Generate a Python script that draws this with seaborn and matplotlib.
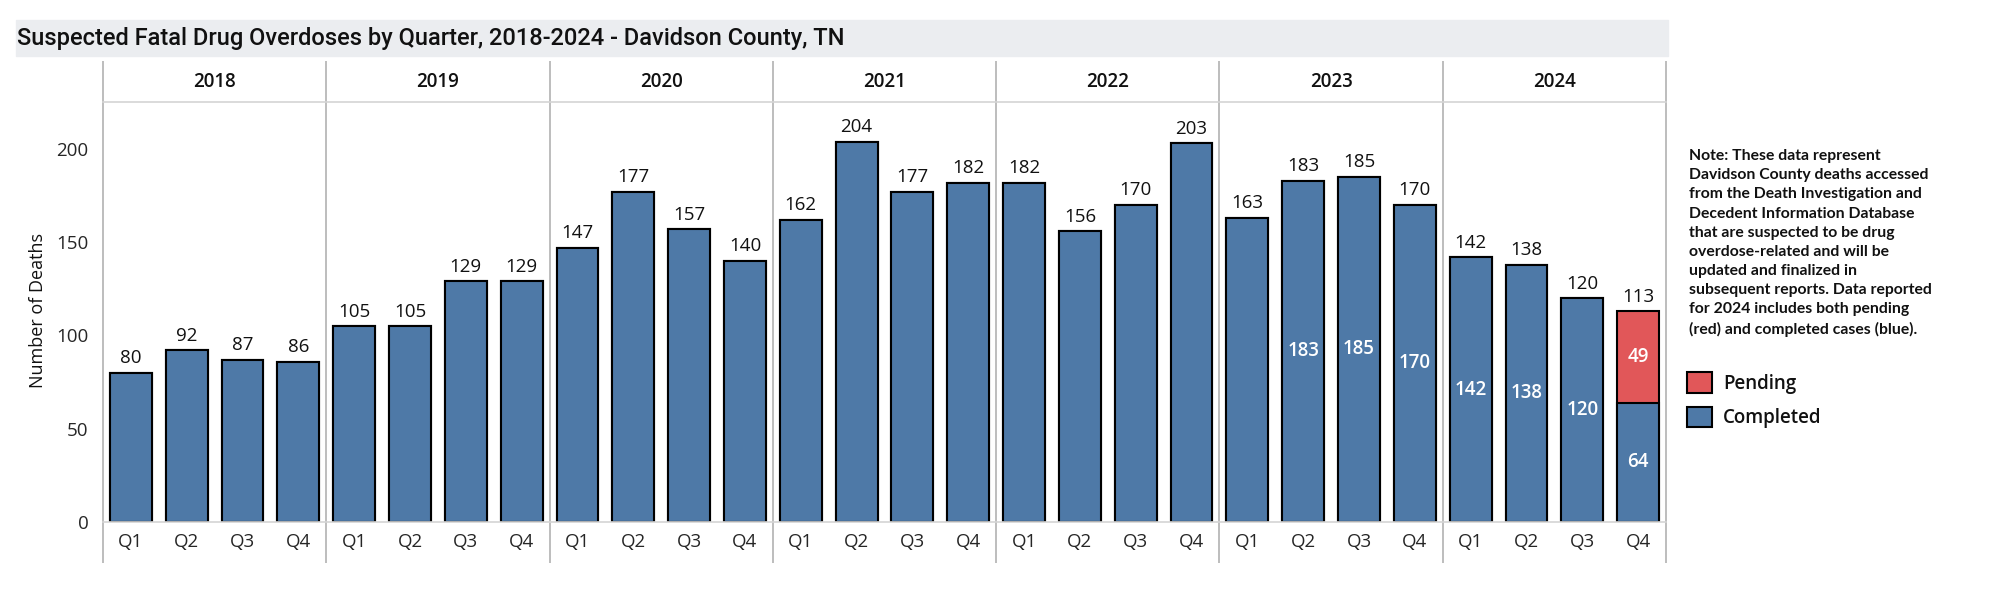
import matplotlib
matplotlib.use('Agg')
import matplotlib.pyplot as plt
from matplotlib.patches import Patch, Rectangle
import pandas as pd
import seaborn as sns

years = ['2018', '2019', '2020', '2021', '2022', '2023', '2024']
quarters = ['Q1', 'Q2', 'Q3', 'Q4']
completed = [80, 92, 87, 86,
             105, 105, 129, 129,
             147, 177, 157, 140,
             162, 204, 177, 182,
             182, 156, 170, 203,
             163, 183, 185, 170,
             142, 138, 120, 64]
pending = [0] * 27 + [49]
# bars that also show the completed count inside the bar
inner_shown = [False] * 21 + [True] * 7

BLUE = '#4e79a7'
RED = '#e15759'
LINE = '#c8c8c8'

sns.set_theme(style='white')
plt.rcParams['font.family'] = ['Open Sans', 'DejaVu Sans']
plt.rcParams['text.color'] = '#111111'

df = pd.DataFrame({
    'year': [y for y in years for _ in quarters],
    'quarter': quarters * len(years),
    'completed': completed,
    'pending': pending,
})
df['slot'] = df['year'] + ' ' + df['quarter']
df['total'] = df['completed'] + df['pending']

W, H = 2000, 589
fig = plt.figure(figsize=(W / 100, H / 100), dpi=100)
ax = fig.add_axes([103 / W, 1 - 522 / H, (1666 - 103) / W, 420 / H])

# title band
fig.patches.append(Rectangle((16 / W, 1 - 56 / H), (1668 - 16) / W, 36 / H,
                             transform=fig.transFigure, color='#ebedf0', zorder=0))
fig.text(17 / W, 1 - 38 / H,
         'Suspected Fatal Drug Overdoses by Quarter, 2018-2024 - Davidson County, TN',
         ha='left', va='center', fontsize=17, weight='medium',
         family=['Roboto', 'DejaVu Sans'])

order = list(df['slot'])
sns.barplot(data=df, x='slot', y='total', order=order, color=RED, saturation=1,
            width=0.75, edgecolor='black', linewidth=1.5, ax=ax)
sns.barplot(data=df, x='slot', y='completed', order=order, color=BLUE, saturation=1,
            width=0.75, edgecolor='black', linewidth=1.5, ax=ax)

ax.bar_label(ax.containers[0], labels=[str(v) for v in df['total']],
             padding=4, fontsize=13.5)
ax.bar_label(ax.containers[1],
             labels=[str(v) if s else '' for v, s in zip(df['completed'], inner_shown)],
             label_type='center', color='white', fontsize=13.5, weight='semibold')
for i, (c, p) in enumerate(zip(df['completed'], df['pending'])):
    if p > 0:
        ax.text(i, c + p / 2, str(p), ha='center', va='center',
                color='white', fontsize=13.5, weight='semibold')

n = len(order)
ax.set_xlim(-0.5, n - 0.5)
ax.set_ylim(0, 225.2)
ax.set_yticks([0, 50, 100, 150, 200])
ax.set_xticks(range(n))
ax.set_xticklabels(list(df['quarter']))
ax.set_xticks([k + 0.5 for k in range(n - 1) if (k + 1) % 4 != 0], minor=True)
ax.tick_params(axis='x', which='major', length=0, pad=8, labelsize=13.5)
ax.tick_params(axis='x', which='minor', length=7.2, width=1, color=LINE)
ax.tick_params(axis='y', length=6.5, width=1, color=LINE, pad=4, labelsize=13.5)
ax.set_xlabel('')
ax.set_ylabel('')

for side in ['left', 'right']:
    ax.spines[side].set_visible(False)
for side in ['top', 'bottom']:
    ax.spines[side].set_color('#d4d4d4')
    ax.spines[side].set_linewidth(1.2)

# facet dividers and year headers
ytop = (522 - 61) / 420
ybot = -(563 - 522) / 420
bounds = [4 * g - 0.5 for g in range(len(years) + 1)]
ax.vlines(bounds, ybot, ytop, colors='#bdbdbd', linewidth=1.4,
          transform=ax.get_xaxis_transform(), clip_on=False)
for g, y in enumerate(years):
    ax.text(4 * g + 1.5, (522 - 82) / 420, y, transform=ax.get_xaxis_transform(),
            ha='center', va='center', fontsize=13.5, weight='semibold')

fig.text(38 / W, 1 - 310 / H, 'Number of Deaths', rotation=90,
         ha='center', va='center', fontsize=13)

note = ('Note: These data represent\n'
        'Davidson County deaths accessed\n'
        'from the Death Investigation and\n'
        'Decedent Information Database\n'
        'that are suspected to be drug\n'
        'overdose-related and will be\n'
        'updated and finalized in\n'
        'subsequent reports. Data reported\n'
        'for 2024 includes both pending\n'
        '(red) and completed cases (blue).')
fig.text(1689 / W, 1 - 149 / H, note, ha='left', va='top', fontsize=11.3,
         weight='bold', linespacing=1.47, family=['Lato', 'DejaVu Sans'])

handles = [Patch(facecolor=RED, edgecolor='black', linewidth=1.5, label='Pending'),
           Patch(facecolor=BLUE, edgecolor='black', linewidth=1.5, label='Completed')]
fig.legend(handles=handles, loc='upper left', bbox_to_anchor=(1687 / W, 1 - 372 / H),
           frameon=False, handlelength=1.32, handleheight=1.32,
           handletextpad=0.6, labelspacing=0.7, borderpad=0, borderaxespad=0,
           prop={'size': 13.5, 'weight': 'semibold'})

fig.savefig('out.png', dpi=100)
